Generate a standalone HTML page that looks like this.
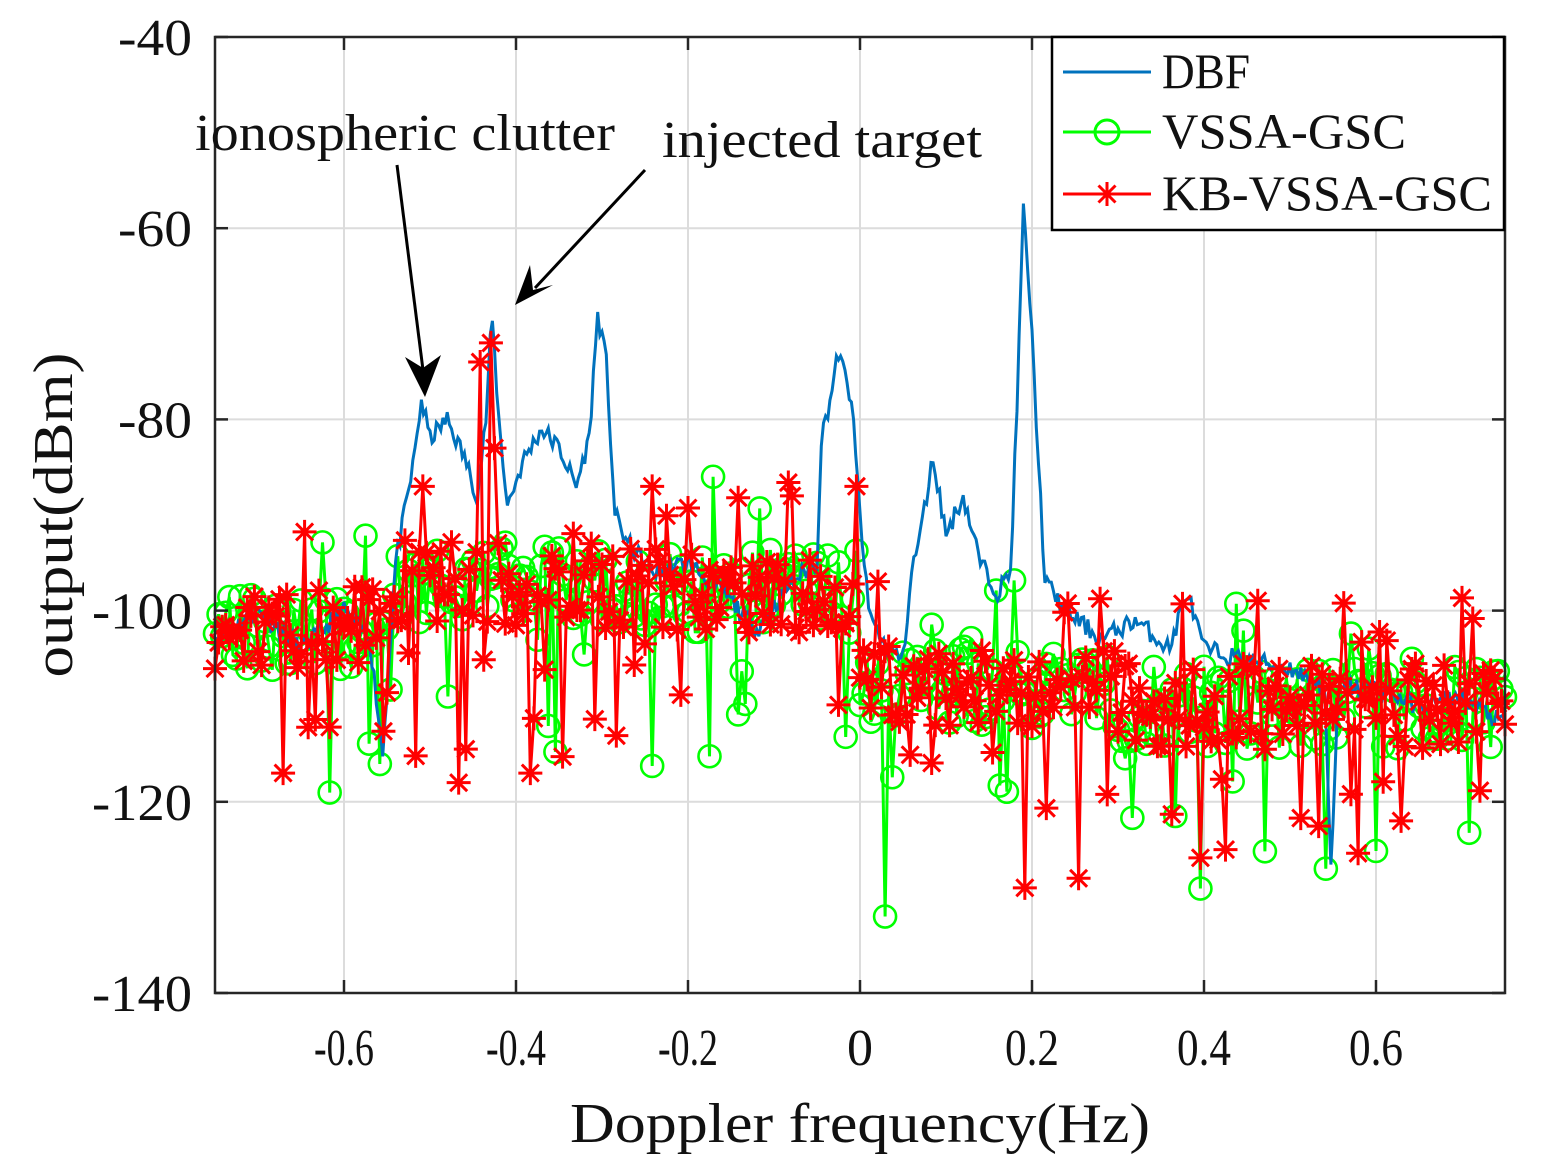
<!DOCTYPE html>
<html><head><meta charset="utf-8"><style>body{margin:0;background:#fff}svg{display:block}</style></head>
<body>
<svg id="s" width="1541" height="1176" xmlns="http://www.w3.org/2000/svg" font-family="Liberation Serif, serif">
<rect width="1541" height="1176" fill="#fff"/>
<g id="grid" stroke="#dcdcdc" stroke-width="2"></g>
<g id="plot"></g>
<rect x="215" y="37" width="1290" height="956" fill="none" stroke="#262626" stroke-width="2.5"/>
<g id="ticks" stroke="#262626" stroke-width="2.5"></g>
<g id="lab" font-size="52" fill="#111"></g>
<text x="860" y="1142" font-size="56" text-anchor="middle" textLength="580" lengthAdjust="spacingAndGlyphs" fill="#111">Doppler frequency(Hz)</text>
<text transform="translate(72,515) rotate(-90)" font-size="56" text-anchor="middle" textLength="325" lengthAdjust="spacingAndGlyphs" fill="#111">output(dBm)</text>
<text x="195" y="150" font-size="52" textLength="420" lengthAdjust="spacingAndGlyphs" fill="#111">ionospheric clutter</text>
<text x="662" y="157" font-size="52" textLength="320" lengthAdjust="spacingAndGlyphs" fill="#111">injected target</text>
<line x1="397" y1="165" x2="423" y2="370" stroke="#000" stroke-width="3"/>
<polygon points="425,397 405,357 423,368 441,355" fill="#000"/>
<line x1="645" y1="170" x2="535" y2="288" stroke="#000" stroke-width="3"/>
<polygon points="515,305 530,265 533,290 553,285" fill="#000"/>
<rect x="1052" y="37" width="452" height="193" fill="#fff" stroke="#000" stroke-width="2.5"/>
<line x1="1063" y1="72" x2="1151" y2="72" stroke="#0072bd" stroke-width="3"/>
<line x1="1063" y1="132" x2="1151" y2="132" stroke="#00ff00" stroke-width="3"/>
<circle cx="1107" cy="132" r="12" fill="none" stroke="#00ff00" stroke-width="3"/>
<line x1="1063" y1="194" x2="1151" y2="194" stroke="#ff0000" stroke-width="3"/>
<g id="lstar"></g>
<text x="1162" y="88" font-size="50" fill="#111" textLength="88" lengthAdjust="spacingAndGlyphs">DBF</text>
<text x="1162" y="148" font-size="50" fill="#111" textLength="244" lengthAdjust="spacingAndGlyphs">VSSA-GSC</text>
<text x="1162" y="210" font-size="50" fill="#111" textLength="330" lengthAdjust="spacingAndGlyphs">KB-VSSA-GSC</text>
</svg>
<script>
var NS="http://www.w3.org/2000/svg";
function X(f){return 860+f*860;}function Y(d){return 37+(-40-d)*9.56;}
function el(p,t,a){var e=document.createElementNS(NS,t);for(var k in a)e.setAttribute(k,a[k]);p.appendChild(e);return e;}
var g=document.getElementById('grid'),tk=document.getElementById('ticks'),lb=document.getElementById('lab');
[-0.6,-0.4,-0.2,0,0.2,0.4,0.6].forEach(function(f){var x=X(f);el(g,'line',{x1:x,y1:37,x2:x,y2:993});
el(tk,'line',{x1:x,y1:993,x2:x,y2:980});el(tk,'line',{x1:x,y1:37,x2:x,y2:50});
var t=el(lb,'text',{x:x,y:1065,'text-anchor':'middle',textLength:(f==0?26:(f<0?60:54)),lengthAdjust:'spacingAndGlyphs'});t.textContent=(f==0?'0':(f<0?'-':'')+Math.abs(f).toFixed(1));});
[-40,-60,-80,-100,-120,-140].forEach(function(d){var y=Y(d);el(g,'line',{x1:215,y1:y,x2:1505,y2:y});
el(tk,'line',{x1:215,y1:y,x2:228,y2:y});el(tk,'line',{x1:1505,y1:y,x2:1492,y2:y});
var t=el(lb,'text',{x:192,y:y+18,'text-anchor':'end',textLength:(d<=-100?100:74),lengthAdjust:'spacingAndGlyphs'});t.textContent=d;});
var seed=11;function r(){seed=(seed*16807)%2147483647;return seed/2147483647;}
var K=[[-0.75,-103],[-0.7,-100],[-0.65,-104],[-0.6,-100],[-0.57,-103],[-0.555,-115],[-0.54,-95],[-0.52,-85],[-0.51,-78],[-0.5,-82],[-0.48,-80],[-0.46,-84],[-0.445,-88],[-0.435,-80],[-0.428,-69],[-0.42,-80],[-0.41,-89],[-0.39,-84],[-0.37,-81],[-0.35,-83],[-0.33,-87],[-0.315,-82],[-0.305,-69],[-0.295,-74],[-0.285,-90],[-0.27,-93],[-0.24,-96],[-0.2,-95],[-0.16,-98],[-0.12,-102],[-0.08,-97],[-0.05,-95],[-0.045,-82],[-0.035,-78],[-0.025,-73],[-0.01,-78],[0,-90],[0.01,-100],[0.03,-104],[0.05,-105],[0.06,-96],[0.07,-92],[0.085,-84],[0.1,-92],[0.12,-88],[0.14,-95],[0.16,-98],[0.175,-96],[0.182,-80],[0.19,-58],[0.198,-68],[0.205,-80],[0.215,-97],[0.24,-100],[0.28,-103],[0.32,-101],[0.36,-104],[0.38,-98],[0.4,-104],[0.44,-105],[0.5,-106],[0.54,-108],[0.548,-128],[0.556,-108],[0.6,-108],[0.65,-110],[0.7,-109],[0.75,-112]];
function env(f){for(var i=0;i<K.length-1;i++){if(f<=K[i+1][0]){var t=(f-K[i][0])/(K[i+1][0]-K[i][0]);return K[i][1]+t*(K[i+1][1]-K[i][1]);}}return -112;}
var plot=document.getElementById('plot');
var N=300,d="";for(var i=0;i<=N*2;i++){var f=-0.75+1.5*i/(N*2);var v=env(f)+(r()-0.5)*2;d+=(i?'L':'M')+X(f).toFixed(1)+','+Y(v).toFixed(1);}
var M=360;
function base(f){if(f<-0.55)return -102;if(f<0)return -97+(f+0.55)*-2;if(f<0.3)return -108;return -110;}
function series(){var pts=[];for(var i=0;i<=M;i++){var f=-0.75+1.5*i/M;var v=base(f)+(r()-0.5)*9;if(r()<0.1)v-=6+r()*10;if(r()<0.05)v+=7;pts.push([f,v]);}return pts;}
var G=series(),R=series();
function setp(P,f,v){var i=Math.round((f+0.75)/1.5*M);P[i][1]=v;}
setp(R,-0.43,-72);setp(R,-0.44,-74);setp(R,-0.425,-83);setp(R,-0.51,-87);setp(G,0.03,-132);setp(R,0.19,-129);setp(R,0.255,-128);setp(R,0.425,-125);setp(R,-0.465,-118);setp(R,-0.385,-117);setp(R,-0.67,-117);setp(R,-0.005,-87);setp(G,-0.17,-86);setp(R,-0.24,-87);setp(R,-0.08,-88);setp(G,0.54,-127);
function pd(P){return P.map(function(p,i){return (i?'L':'M')+X(p[0]).toFixed(1)+','+Y(p[1]).toFixed(1);}).join('');}
var gg=el(plot,'g',{});el(gg,'path',{d:pd(G),fill:'none',stroke:'#00ff00','stroke-width':3});
G.forEach(function(p){el(gg,'circle',{cx:X(p[0]),cy:Y(p[1]),r:11,fill:'none',stroke:'#00ff00','stroke-width':2.6});});
el(plot,'path',{d:d,fill:'none',stroke:'#0072bd','stroke-width':3});
var rg=el(plot,'g',{stroke:'#ff0000','stroke-width':3});
el(rg,'path',{d:pd(R),fill:'none'});
function star(p,x,y){var s=12,t=8.5;el(p,'path',{d:'M'+(x-s)+','+y+'h'+2*s+'M'+x+','+(y-s)+'v'+2*s+'M'+(x-t)+','+(y-t)+'l'+2*t+','+2*t+'M'+(x-t)+','+(y+t)+'l'+2*t+','+(-2*t),fill:'none'});}
R.forEach(function(p){star(rg,X(p[0]),Y(p[1]));});
var ls=el(document.getElementById('lstar'),'g',{stroke:'#ff0000','stroke-width':3});star(ls,1107,194);
</script>
</body></html>
